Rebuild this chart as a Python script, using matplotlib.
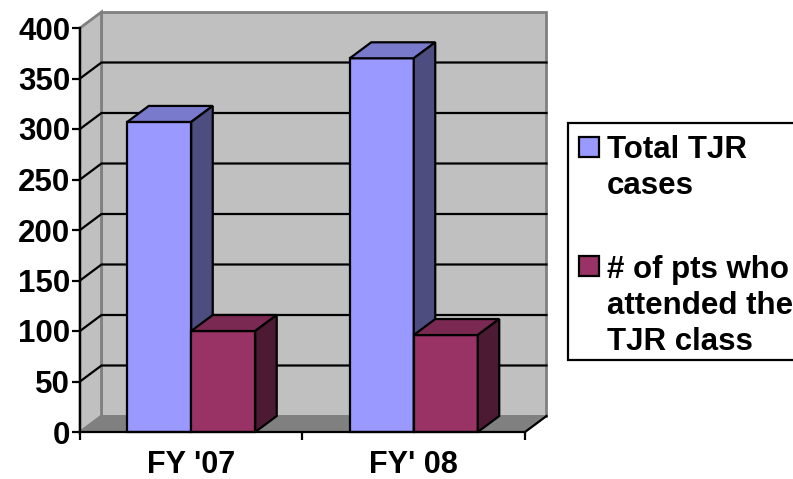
import matplotlib
matplotlib.use('Agg')
import matplotlib.pyplot as plt
from matplotlib.patches import Polygon, Rectangle

plt.rcParams['font.family'] = ['Liberation Sans', 'DejaVu Sans']
plt.rcParams['font.weight'] = 'bold'

# values
categories = ["FY '07", "FY' 08"]
total_cases = [307, 370]
class_attended = [100, 96]
series_names = ['Total TJR\ncases', '# of pts who\nattended the\nTJR class']
y_ticks = [0, 50, 100, 150, 200, 250, 300, 350, 400]

W, H = 793, 479
LW = 1.6
FS = 22.5
bar_w = 0.2876
# depth of the fake 3d box, in data units
dx = 0.0966
dy = 15.84

blue = ('#9999FF', '#7A7ACC', '#4D4D80')
red = ('#993366', '#7A2952', '#4D1A33')

fig = plt.figure(figsize=(W / 100, H / 100), dpi=100)
ax = fig.add_axes([80 / W, 1 - 432 / H, 445 / W, 404 / H])
ax.set_xlim(0, 2)
ax.set_ylim(0, 400)
ax.patch.set_visible(False)


def poly(pts, fc, ec='black', lw=LW, z=2):
    ax.add_patch(Polygon(pts, closed=True, facecolor=fc, edgecolor=ec, linewidth=lw,
                         zorder=z, clip_on=False, joinstyle='miter'))


# walls and floor
poly([(dx, dy), (2 + dx, dy), (2 + dx, 400 + dy), (dx, 400 + dy)], '#C0C0C0', '#808080', 2.0, 1)
poly([(0, 0), (dx, dy), (dx, 400 + dy), (0, 400)], '#C0C0C0', '#808080', 2.0, 1)
poly([(0, 0), (2, 0), (2 + dx, dy), (dx, dy)], '#808080', '#808080', 1.0, 1)

# gridlines run along the side wall then the back wall
for v in y_ticks[1:-1]:
    ax.plot([0, dx, 2 + dx], [v, v + dy, v + dy], color='black', lw=LW, zorder=1.5,
            clip_on=False, solid_joinstyle='miter')
ax.plot([2, 2 + dx], [0, dy], color='black', lw=LW, zorder=1.5, clip_on=False)


def bar3d(x0, h, cols, z):
    x1 = x0 + bar_w
    poly([(x0, 0), (x1, 0), (x1, h), (x0, h)], cols[0], z=z)
    poly([(x0, h), (x1, h), (x1 + dx, h + dy), (x0 + dx, h + dy)], cols[1], z=z)
    poly([(x1, 0), (x1 + dx, dy), (x1 + dx, h + dy), (x1, h)], cols[2], z=z)


for i in range(len(categories)):
    bar3d(i + 0.5 - bar_w, total_cases[i], blue, 3 + i)
    bar3d(i + 0.5, class_attended[i], red, 3.5 + i)

for s in ['top', 'right']:
    ax.spines[s].set_visible(False)
for s in ['left', 'bottom']:
    ax.spines[s].set_linewidth(LW)
    ax.spines[s].set_zorder(10)

ax.set_yticks(y_ticks)
ax.set_xticks([0, 1, 2])
ax.set_xticklabels([])
ax.set_xticks([0.5, 1.5], minor=True)
ax.set_xticklabels(categories, minor=True)
ax.tick_params(axis='x', which='major', length=6, width=LW, direction='out')
ax.tick_params(axis='x', which='minor', length=0, labelsize=22, pad=13)
ax.tick_params(axis='y', length=6, width=LW, labelsize=FS, pad=1)

# legend, built by hand so it runs off the right edge like the original
fig.add_artist(Rectangle((568 / W, 1 - 360 / H), 240 / W, 237 / H, transform=fig.transFigure,
                         facecolor='white', edgecolor='black', linewidth=LW))
swatches = [(579, 137), (579, 256)]
text_pos = [(607, 135), (607, 255)]
for (sx, sy), (tx, ty), name, c in zip(swatches, text_pos, series_names, [blue[0], red[0]]):
    fig.add_artist(Rectangle((sx / W, 1 - (sy + 20) / H), 20 / W, 20 / H, transform=fig.transFigure,
                             facecolor=c, edgecolor='black', linewidth=LW))
    fig.text(tx / W, 1 - ty / H, name, fontsize=FS, fontweight='bold', va='top', ha='left',
             linespacing=1.25)

fig.savefig('out.png', dpi=100)
